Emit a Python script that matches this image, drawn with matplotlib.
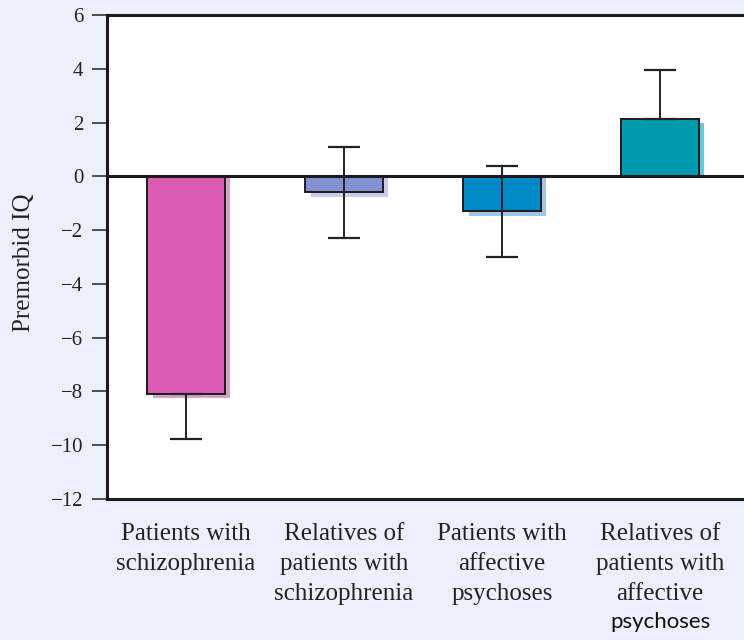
import matplotlib
matplotlib.use("Agg")
import matplotlib.pyplot as plt
from matplotlib.transforms import blended_transform_factory

# group labels, last line of the last label is set in a sans face
groups = [
    "Patients with\nschizophrenia",
    "Relatives of\npatients with\nschizophrenia",
    "Patients with\naffective\npsychoses",
    "Relatives of\npatients with\naffective",
]
last_line = "psychoses"

iq_mean = [-8.1, -0.6, -1.3, 2.15]
err_low = [1.65, 1.7, 1.7, 0.0]
err_high = [0.0, 1.7, 1.7, 1.8]

bar_colors = ["#db5bb2", "#8391d3", "#0089c9", "#009aaf"]
shade_colors = ["#d3a3c7", "#c9cdeb", "#a3c5e2", "#6dc5d9"]

yticks = [6, 4, 2, 0, -2, -4, -6, -8, -10, -12]

BG = "#ecf0fb"
SERIF = "Liberation Serif"

fig = plt.figure(figsize=(7.44, 6.40), dpi=100, facecolor=BG)
ax = fig.add_axes([0.1438, 0.2203, 0.8562, 0.7563])
ax.set_facecolor("white")

x = list(range(len(iq_mean)))
width = 0.49

# offset drop shadow under each bar
dx, dy = 0.034, 0.16
shade_x = [i + dx for i in x]
shade_h = [v - dy for v in iq_mean]
ax.bar(shade_x, shade_h, width, color=shade_colors, zorder=1)

ax.bar(x, iq_mean, width, color=bar_colors, edgecolor="#1c1c1c",
       linewidth=1.4, zorder=2)

ax.errorbar(x, iq_mean, yerr=[err_low, err_high], fmt="none",
            ecolor="#222222", elinewidth=1.4, capsize=11.5,
            capthick=1.6, zorder=3)

ax.axhline(0, color="#1a1a1a", linewidth=2.2, zorder=4)

ax.set_xlim(-0.5, 3.53)
ax.set_ylim(-12, 6)
ax.set_yticks(yticks)
ax.set_yticklabels([str(t).replace("-", "\u2212") for t in yticks],
                   fontfamily=SERIF, fontsize=15, color="#222222")
ax.tick_params(axis="y", direction="out", length=11, width=1.2,
               color="#333333", pad=6)
ax.set_xticks([])

for side in ["left", "top", "bottom"]:
    ax.spines[side].set_linewidth(2.2)
    ax.spines[side].set_color("#1a1a1a")
ax.spines["right"].set_visible(False)

ax.set_ylabel("Premorbid IQ", fontfamily=SERIF, fontsize=18,
              color="#222222")
ax.yaxis.set_label_coords(-0.113, 0.4876)

# category labels under the axis
trans = blended_transform_factory(ax.transData, ax.transAxes)
for i, label in enumerate(groups):
    ax.text(i, -0.05, label, transform=trans, ha="center", va="top",
            fontfamily=SERIF, fontsize=18, color="#222222",
            linespacing=1.45)
ax.text(3, -0.2665, last_line, transform=trans, ha="center",
        va="baseline", fontfamily="Lato", fontsize=16, color="#111111")

fig.savefig("out.png", dpi=100, facecolor=BG)
